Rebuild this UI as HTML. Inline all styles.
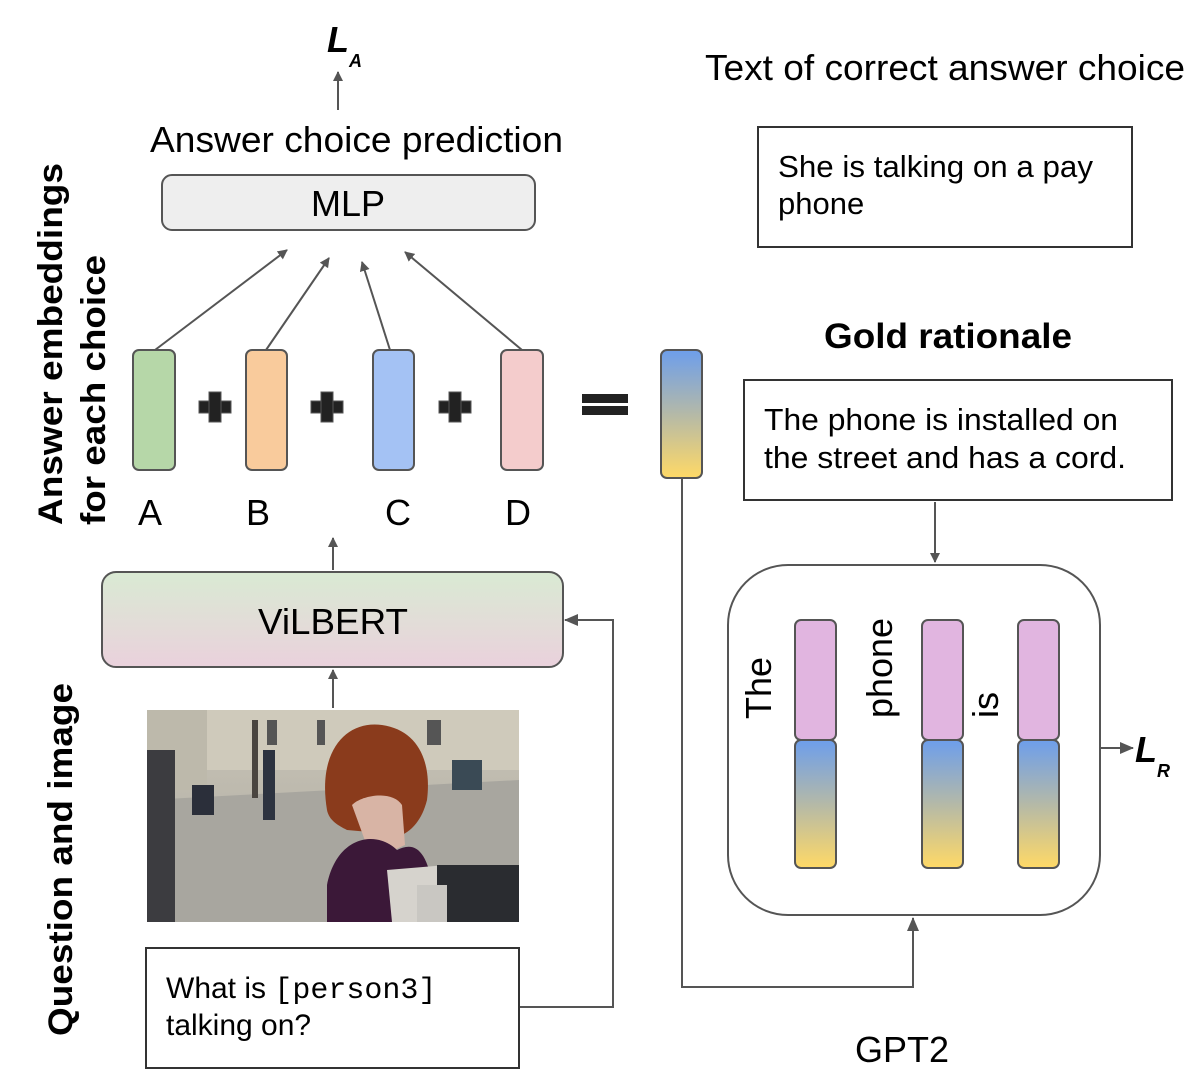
<!DOCTYPE html>
<html><head><meta charset="utf-8"><style>body{margin:0;background:#fff}svg{display:block}text{font-family:"Liberation Sans",sans-serif}</style></head><body>
<svg width="1198" height="1080" viewBox="0 0 1198 1080" xmlns="http://www.w3.org/2000/svg">
<defs>
<marker id="ar" markerWidth="10" markerHeight="10" refX="9" refY="5" orient="auto" markerUnits="userSpaceOnUse"><path d="M0,0 L10,5 L0,10 z" fill="#555"/></marker>
<marker id="ar2" markerWidth="14" markerHeight="14" refX="13" refY="7" orient="auto" markerUnits="userSpaceOnUse"><path d="M0,1 L14,7 L0,13 z" fill="#555"/></marker>
<linearGradient id="g1" x1="0" y1="0" x2="0" y2="1"><stop offset="0" stop-color="#6d9eeb"/><stop offset="0.5" stop-color="#b4b9a8"/><stop offset="1" stop-color="#ffd966"/></linearGradient>
<linearGradient id="gv" x1="0" y1="0" x2="0" y2="1"><stop offset="0" stop-color="#d9ead3"/><stop offset="1" stop-color="#ead1dc"/></linearGradient>
<linearGradient id="sky" x1="0" y1="0" x2="0" y2="1"><stop offset="0" stop-color="#c9c4b5"/><stop offset="1" stop-color="#aba9a3"/></linearGradient>
</defs>
<g stroke="#555" stroke-width="2" fill="none">
<line x1="338" y1="110" x2="338" y2="72" marker-end="url(#ar)"/>
<line x1="155" y1="350" x2="287" y2="250" marker-end="url(#ar)"/>
<line x1="266" y1="350" x2="329" y2="258" marker-end="url(#ar)"/>
<line x1="390" y1="350" x2="362" y2="262" marker-end="url(#ar)"/>
<line x1="522" y1="350" x2="405" y2="252" marker-end="url(#ar)"/>
<line x1="333" y1="570" x2="333" y2="538" marker-end="url(#ar)"/>
<line x1="333" y1="708" x2="333" y2="670" marker-end="url(#ar)"/>
<polyline points="519,1007 613,1007 613,620 565,620" marker-end="url(#ar2)"/>
<line x1="935" y1="502" x2="935" y2="562" marker-end="url(#ar)"/>
<polyline points="682,478 682,987 913,987 913,918" marker-end="url(#ar2)"/>
<line x1="1100" y1="748" x2="1133" y2="748" marker-end="url(#ar2)"/>
</g>
<text x="327" y="52" font-size="36" font-weight="bold" font-style="italic">L</text>
<text x="349" y="67" font-size="18" font-weight="bold" font-style="italic">A</text>
<text x="150" y="152" font-size="36" textLength="413" lengthAdjust="spacingAndGlyphs">Answer choice prediction</text>
<rect x="162" y="175" width="373" height="55" rx="10" fill="#eee" stroke="#555" stroke-width="2"/>
<text x="348" y="216" font-size="36" text-anchor="middle">MLP</text>
<g stroke="#555" stroke-width="2">
<rect x="133" y="350" width="42" height="120" rx="6" fill="#b6d7a8"/>
<rect x="246" y="350" width="41" height="120" rx="6" fill="#f9cb9c"/>
<rect x="373" y="350" width="41" height="120" rx="6" fill="#a4c2f4"/>
<rect x="501" y="350" width="42" height="120" rx="6" fill="#f4cccc"/>
<rect x="661" y="350" width="41" height="128" rx="6" fill="url(#g1)"/>
</g>
<g fill="#222" stroke="#555" stroke-width="1">
<rect x="199" y="401" width="32" height="12"/><rect x="209" y="392" width="12" height="30"/>
<rect x="311" y="401" width="32" height="12"/><rect x="321" y="392" width="12" height="30"/>
<rect x="439" y="401" width="32" height="12"/><rect x="449" y="392" width="12" height="30"/>
</g>
<rect x="582" y="394" width="46" height="9" fill="#222"/><rect x="582" y="406" width="46" height="9" fill="#222"/>
<g font-size="36" text-anchor="middle"><text x="150" y="525">A</text><text x="258" y="525">B</text><text x="398" y="525">C</text><text x="518" y="525">D</text></g>
<text transform="translate(62,525) rotate(-90)" font-size="34" font-weight="bold" textLength="362" lengthAdjust="spacingAndGlyphs">Answer embeddings</text>
<text transform="translate(105,525) rotate(-90)" font-size="34" font-weight="bold" textLength="270" lengthAdjust="spacingAndGlyphs">for each choice</text>
<text transform="translate(72,1036) rotate(-90)" font-size="34" font-weight="bold" textLength="353" lengthAdjust="spacingAndGlyphs">Question and image</text>
<rect x="102" y="572" width="461" height="95" rx="14" fill="url(#gv)" stroke="#555" stroke-width="2"/>
<text x="258" y="634" font-size="36" textLength="150" lengthAdjust="spacingAndGlyphs">ViLBERT</text>
<svg x="147" y="710" width="372" height="212" viewBox="0 0 372 212">
<rect width="372" height="212" fill="url(#sky)"/>
<rect x="0" y="0" width="372" height="60" fill="#cfcabb"/>
<path d="M0,90 L372,70 L372,212 L0,212z" fill="#a8a69f"/>
<rect x="0" y="0" width="60" height="80" fill="#bdb9ab"/>
<rect x="120" y="10" width="10" height="25" fill="#555"/><rect x="170" y="10" width="8" height="25" fill="#555"/><rect x="280" y="10" width="14" height="25" fill="#555"/>
<rect x="105" y="10" width="6" height="78" fill="#4a4540"/>
<rect x="116" y="40" width="12" height="70" fill="#2d3340"/>
<rect x="45" y="75" width="22" height="30" fill="#2b2f3a"/>
<rect x="0" y="40" width="28" height="172" fill="#3c3c40"/>
<path d="M305,50 l30,0 l0,30 l-30,0z" fill="#3a4a55"/>
<path d="M180,100 C170,40 200,10 235,15 C270,20 285,50 280,90 C275,110 265,120 255,125 L200,120 C190,115 182,110 180,100z" fill="#8a3b1c"/>
<path d="M205,95 C215,85 245,80 255,95 L258,135 L225,150 Z" fill="#d8b4a5"/>
<path d="M180,175 C190,125 230,120 250,140 C270,130 285,140 290,212 L180,212Z" fill="#3b1838"/>
<path d="M240,160 L300,155 L290,212 L245,212Z" fill="#d6d3cd"/>
<rect x="290" y="155" width="82" height="57" fill="#2a2c30"/>
<rect x="270" y="175" width="30" height="37" fill="#c9c7c2"/>
</svg>
<rect x="146" y="948" width="373" height="120" fill="#fff" stroke="#333" stroke-width="2"/>
<text x="166" y="998" font-size="30">What is <tspan font-family="Liberation Mono">[person3]</tspan></text>
<text x="166" y="1035" font-size="30">talking on?</text>
<text x="705" y="80" font-size="36" textLength="480" lengthAdjust="spacingAndGlyphs">Text of correct answer choice</text>
<rect x="758" y="127" width="374" height="120" fill="#fff" stroke="#333" stroke-width="2"/>
<text x="778" y="177" font-size="31" textLength="315" lengthAdjust="spacingAndGlyphs">She is talking on a pay</text>
<text x="778" y="214" font-size="31">phone</text>
<text x="824" y="348" font-size="35" font-weight="bold" textLength="248" lengthAdjust="spacingAndGlyphs">Gold rationale</text>
<rect x="744" y="380" width="428" height="120" fill="#fff" stroke="#333" stroke-width="2"/>
<text x="764" y="430" font-size="31" textLength="354" lengthAdjust="spacingAndGlyphs">The phone is installed on</text>
<text x="764" y="468" font-size="31" textLength="362" lengthAdjust="spacingAndGlyphs">the street and has a cord.</text>
<rect x="728" y="565" width="372" height="350" rx="60" fill="#fff" stroke="#555" stroke-width="2"/>
<g stroke="#555" stroke-width="2">
<rect x="795" y="620" width="41" height="120" rx="6" fill="#e1b5e0"/><rect x="795" y="740" width="41" height="128" rx="6" fill="url(#g1)"/>
<rect x="922" y="620" width="41" height="120" rx="6" fill="#e1b5e0"/><rect x="922" y="740" width="41" height="128" rx="6" fill="url(#g1)"/>
<rect x="1018" y="620" width="41" height="120" rx="6" fill="#e1b5e0"/><rect x="1018" y="740" width="41" height="128" rx="6" fill="url(#g1)"/>
</g>
<text transform="translate(771,688) rotate(-90)" font-size="36" text-anchor="middle">The</text>
<text transform="translate(892,668) rotate(-90)" font-size="36" text-anchor="middle">phone</text>
<text transform="translate(998,705) rotate(-90)" font-size="36" text-anchor="middle">is</text>
<text x="1135" y="762" font-size="36" font-weight="bold" font-style="italic">L</text>
<text x="1157" y="777" font-size="18" font-weight="bold" font-style="italic">R</text>
<text x="902" y="1062" font-size="36" text-anchor="middle">GPT2</text>
</svg>
</body></html>
